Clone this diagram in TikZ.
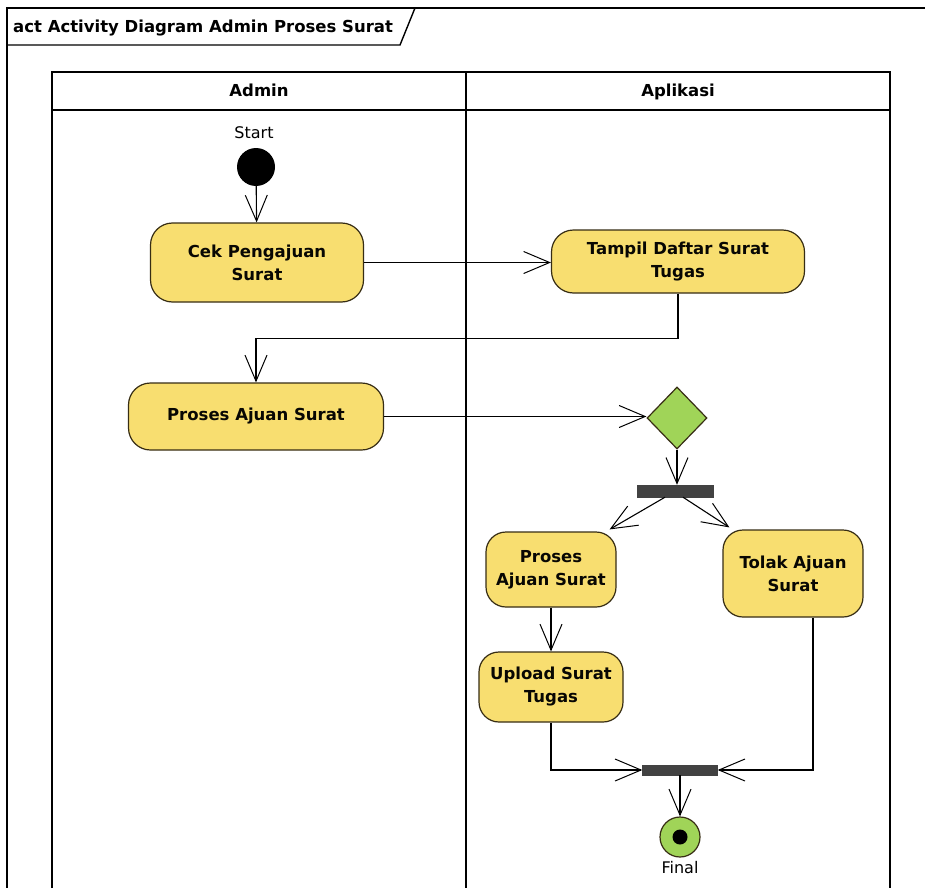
\documentclass[tikz,border=0pt]{standalone}
\usepackage{fontspec}
\setmainfont{DejaVu Sans}
\usetikzlibrary{arrows.meta, shapes.geometric, positioning, calc}
\definecolor{actfill}{RGB}{248,222,112}
\definecolor{actline}{RGB}{55,45,20}
\definecolor{decfill}{RGB}{160,212,88}
\definecolor{barfill}{RGB}{66,66,66}
\newcommand{\lblfont}{\fontsize{16.5}{23}\selectfont\bfseries}
\newcommand{\capfont}{\fontsize{16}{19}\selectfont}

\begin{document}
\begin{tikzpicture}[x=1pt, y=-1pt,
  action/.style={draw=actline, line width=1.2pt, fill=actfill, rounded corners=22pt, align=center, font=\lblfont, text=black!85!actline, inner sep=0pt},
  bar/.style={fill=barfill, draw=barfill, inner sep=0pt},
  flow/.style={-{Straight Barb[length=26pt, width=22pt, line width=1pt]}, line width=1.1pt},
  lane/.style={draw, line width=1.6pt}]
\useasboundingbox (0,0) rectangle (925,888);
\fill[white] (0,0) rectangle (925,888);
\draw[line width=1.4pt] (925,8) -- (7,8) -- (7,888);
\draw[line width=1.4pt] (7,45) -- (400,45) -- (415,8);
\node[anchor=base west, font=\lblfont, inner sep=0pt] (title) at (13,33) {act Activity Diagram Admin Proses Surat};
\draw[lane] (52,888) -- (52,72) -- (890,72) -- (890,888);
\draw[lane] (52,110) -- (890,110);
\draw[lane] (466,72) -- (466,888);
\node[anchor=base, font=\lblfont] (adminhd) at (259,97) {Admin};
\node[anchor=base, font=\lblfont] (aplhd) at (678,97) {Aplikasi};
\node[font=\capfont] (startlbl) at (254,133) {Start};
\node[circle, fill=black, minimum size=38pt, inner sep=0pt] (start) at (256,167) {};
\node[action, minimum width=213pt, minimum height=79pt] (cek) at (257,262.5) {Cek Pengajuan\\Surat};
\node[action, minimum width=253pt, minimum height=63pt] (tampil) at (678,261.5) {Tampil Daftar Surat\\Tugas};
\node[action, minimum width=255pt, minimum height=67pt] (proses) at (256,416.5) {Proses Ajuan Surat};
\node[diamond, draw=actline, line width=1.2pt, fill=decfill, minimum width=60pt, minimum height=62pt, inner sep=0pt] (dec) at (677,418) {};
\node[bar, minimum width=76pt, minimum height=12pt] (fork) at (675,491) {};
\node[action, rounded corners=20pt, minimum width=130pt, minimum height=75pt] (prosesb) at (551,569.5) {Proses\\Ajuan Surat};
\node[action, rounded corners=20pt, minimum width=140pt, minimum height=87pt] (tolak) at (793,573.5) {Tolak Ajuan\\Surat};
\node[action, rounded corners=20pt, minimum width=144pt, minimum height=70pt] (upload) at (551,687) {Upload Surat\\Tugas};
\node[bar, minimum width=75pt, minimum height=10pt] (join) at (680,770) {};
\node[circle, draw=actline, line width=1.2pt, fill=decfill, minimum size=40pt, inner sep=0pt] (final) at (680,837) {};
\node[circle, fill=black, minimum size=15pt, inner sep=0pt] at (final) {};
\node[font=\capfont] (finallbl) at (680,868) {Final};
\draw[flow] (start) -- (cek);
\draw[flow] (cek.east) -- (cek.east -| tampil.west);
\draw[flow] (tampil.south) -- ++(0,45) -| (proses.north);
\draw[flow] (proses.east) -- (proses.east -| dec.west);
\draw[flow] (dec.south) -- (dec.south |- fork.north);
\draw[flow] ($(fork.south)+(-10,0)$) -- ($(prosesb.north east)+(-7,-2)$);
\draw[flow] ($(fork.south)+(8,0)$) -- ($(tolak.north west)+(7,-2)$);
\draw[flow] (prosesb) -- (upload);
\draw[flow] (upload.south) |- (join.west);
\draw[flow] ($(tolak.south)+(20,0)$) |- (join.east);
\draw[flow] (join.south) -- (final.north);
\end{tikzpicture}
\end{document}
